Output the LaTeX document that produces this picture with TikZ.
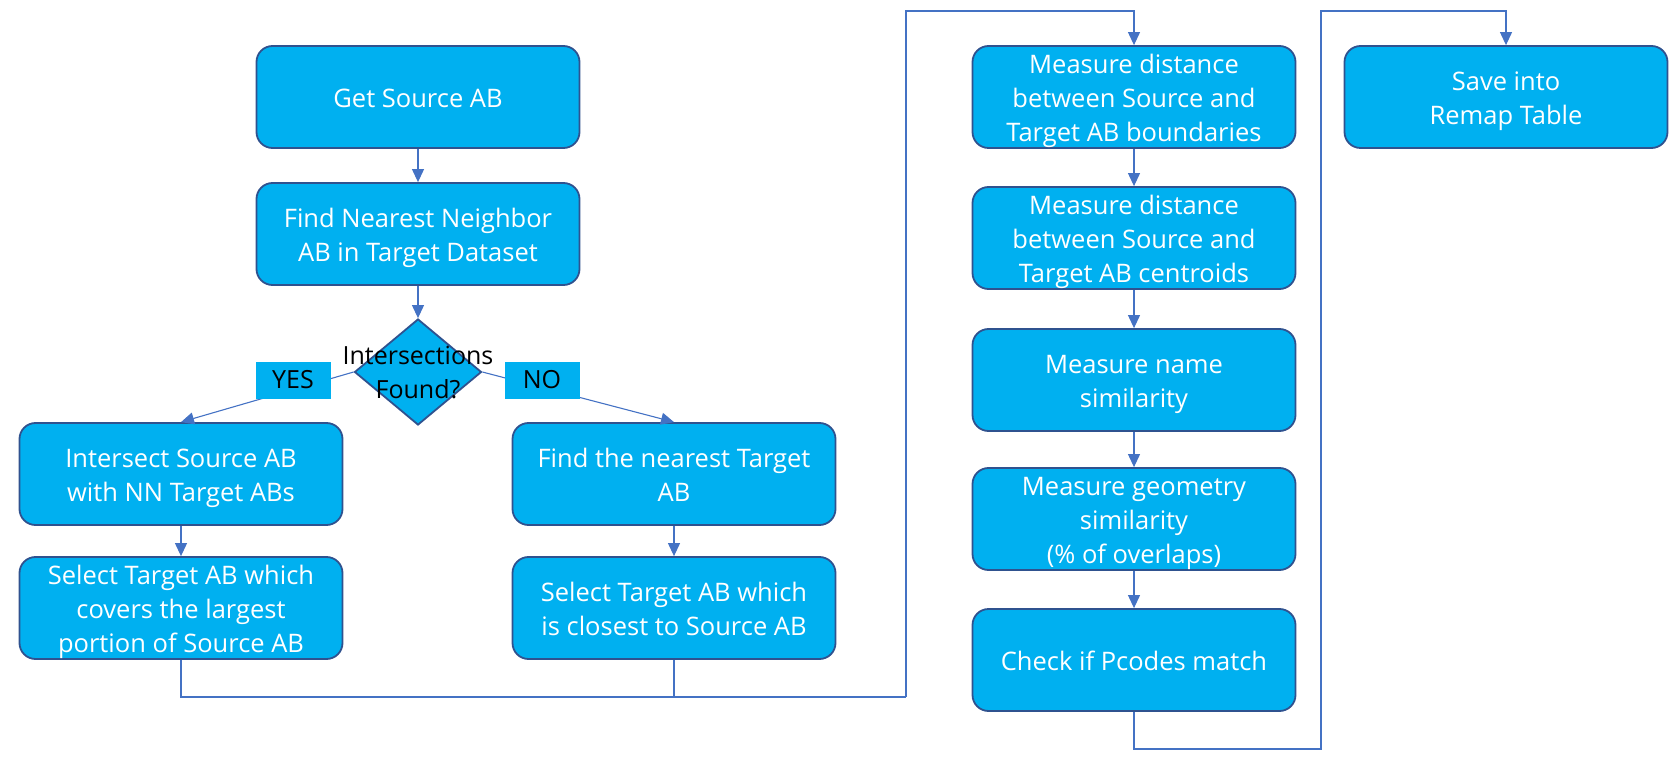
\documentclass[tikz,border=0pt]{standalone}
\usepackage{fontspec}
\setmainfont{Open Sans}
\usetikzlibrary{shapes.geometric,arrows.meta}
\definecolor{boxfill}{HTML}{00B0F0}
\definecolor{boxline}{HTML}{2F528F}
\definecolor{conn}{HTML}{4472C4}
\newcommand\bt[1]{\raisebox{-4pt}[\height][\depth]{\begin{tabular}{@{}c@{}}#1\end{tabular}}}
\tikzset{
  box/.style={draw=boxline, line width=1.8pt, fill=boxfill, rounded corners=16pt,
    minimum width=323pt, minimum height=102pt, text=white, align=center,
    font=\fontsize{25.5}{34}\selectfont, inner sep=0pt},
  conn/.style={draw=conn, line width=1.1pt},
  arr/.style={conn, -{Triangle[width=12pt,length=13pt]}},
  lab/.style={fill=boxfill, text=black, minimum width=75pt, minimum height=37pt,
    inner sep=0pt, font=\fontsize{25}{28}\selectfont},
  dia/.style={diamond, draw=boxline, line width=1.8pt, fill=boxfill,
    minimum width=127pt, minimum height=106pt, inner sep=0pt},
  diatext/.style={text=black, align=center, font=\fontsize{25}{34}\selectfont, inner sep=0pt}
}
\begin{document}
\begin{tikzpicture}[x=1pt,y=-1pt]
\useasboundingbox (0,0) rectangle (1679,767);
% left part
\node[box] (a) at (418,97) {\bt{Get Source AB}};
\node[box] (b) at (418,234) {\bt{Find Nearest Neighbor\\AB in Target Dataset}};
\node[dia] (d) at (418,372) {};
\node[diatext] (dt) at (418,373) {Intersections\\Found?};
\node[box] (c) at (181,474) {\bt{Intersect Source AB\\with NN Target ABs}};
\node[box] (e) at (181,608) {\bt{Select Target AB which\\covers the largest\\portion of Source AB}};
\node[box] (f) at (674,474) {\bt{Find the nearest Target\\AB}};
\node[box] (g) at (674,608) {\bt{Select Target AB which\\is closest to Source AB}};
% middle column
\node[box] (m1) at (1134,97) {\bt{Measure distance\\between Source and\\Target AB boundaries}};
\node[box] (m2) at (1134,238) {\bt{Measure distance\\between Source and\\Target AB centroids}};
\node[box] (m3) at (1134,380) {\bt{Measure name\\similarity}};
\node[box] (m4) at (1134,519) {\bt{Measure geometry\\similarity\\(\% of overlaps)}};
\node[box] (m5) at (1134,660) {\bt{Check if Pcodes match}};
% right
\node[box] (s) at (1506,97) {\bt{Save into\\Remap Table}};
% connectors
\draw[arr] (a) -- (b);
\draw[arr] (b) -- (d);
\draw[arr] (d.west) -- (c.north);
\draw[arr] (d.east) -- (f.north);
\node[lab] (yes) at (293,380) {YES};
\node[lab] (no) at (542,380) {NO};
\draw[arr] (c) -- (e);
\draw[arr] (f) -- (g);
\coordinate (j1) at (181,697);
\coordinate (j2) at (674,697);
\coordinate (j3) at (906,697);
\coordinate (j4) at (906,11);
\coordinate (j5) at (1134,11);
\draw[conn] (e.south) -- (j1) -- (j3);
\draw[conn] (g.south) -- (j2);
\draw[arr] (j3) -- (j4) -- (j5) -- (m1.north);
\draw[arr] (m1) -- (m2);
\draw[arr] (m2) -- (m3);
\draw[arr] (m3) -- (m4);
\draw[arr] (m4) -- (m5);
\coordinate (k1) at (1134,749);
\coordinate (k2) at (1321,749);
\coordinate (k3) at (1321,11);
\coordinate (k4) at (1506,11);
\draw[arr] (m5.south) -- (k1) -- (k2) -- (k3) -- (k4) -- (s.north);
\end{tikzpicture}
\end{document}
